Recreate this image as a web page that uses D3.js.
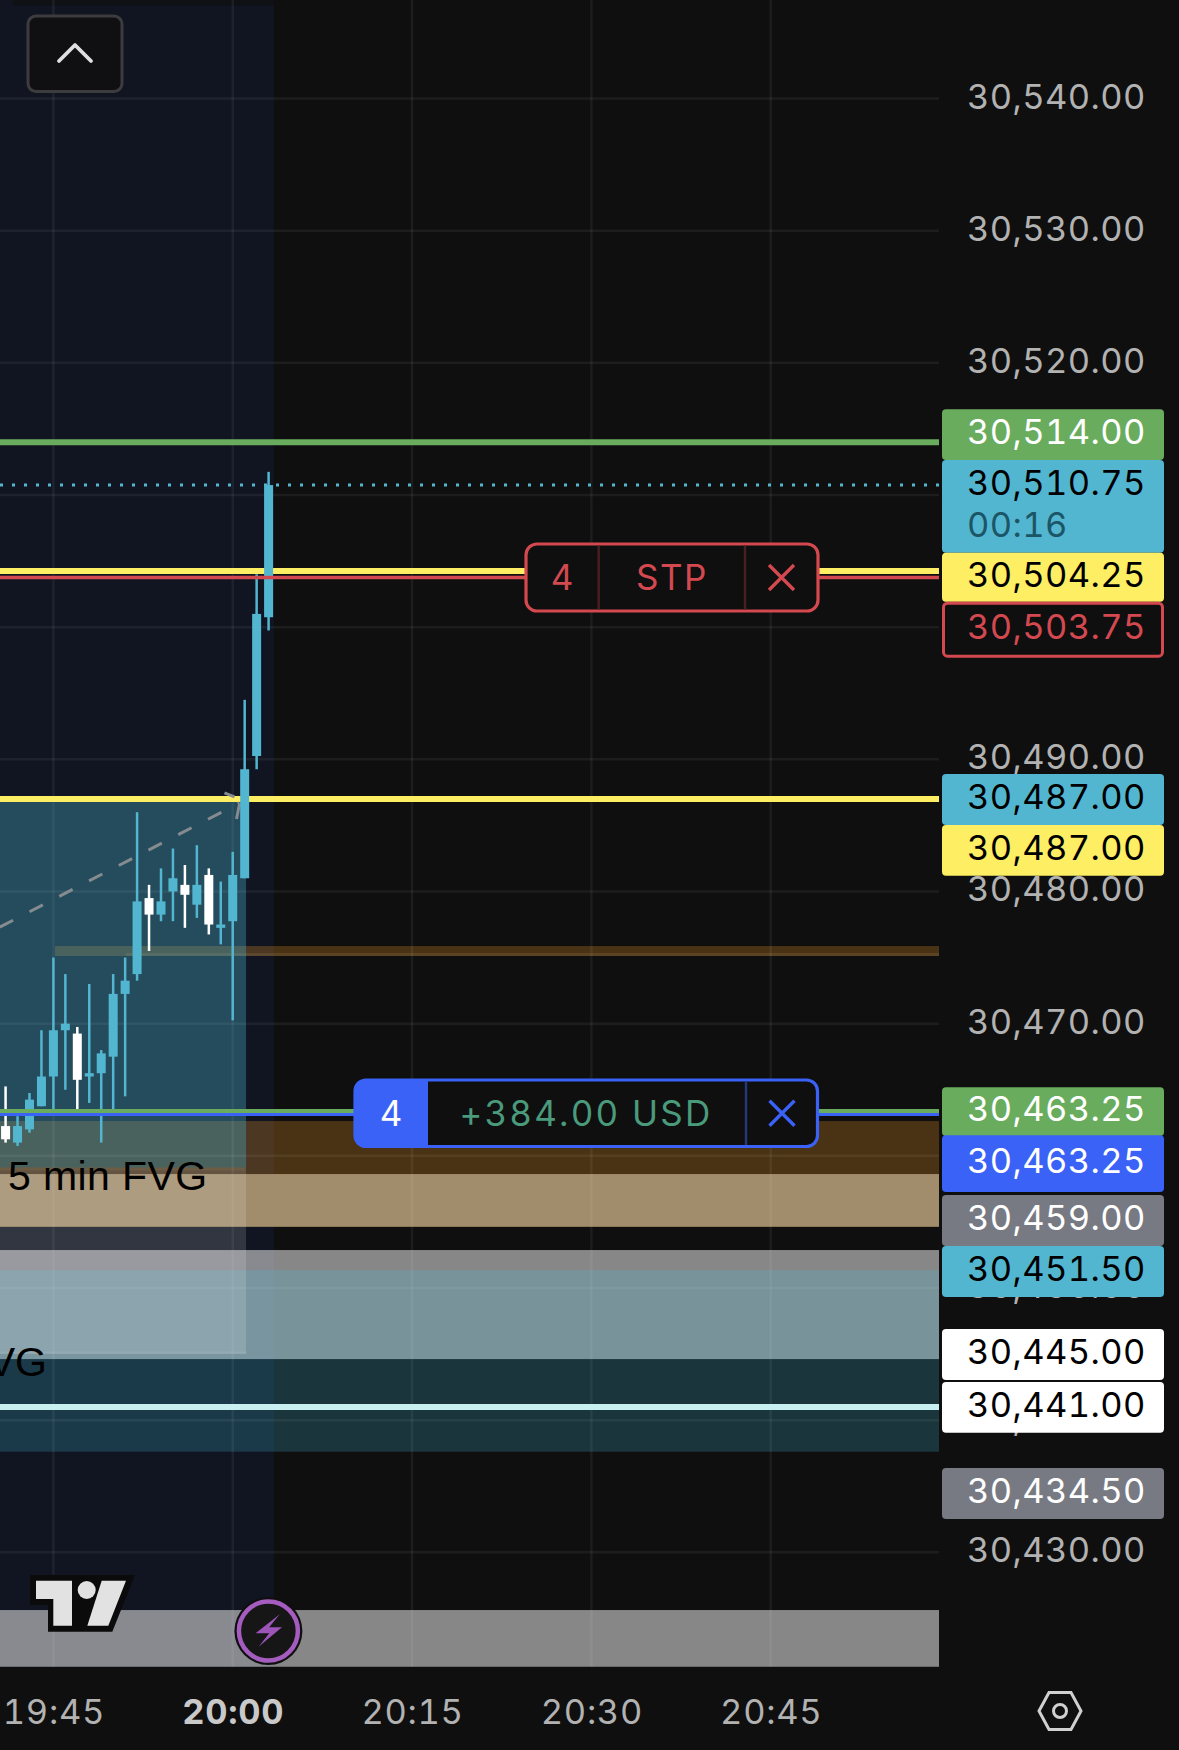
<!DOCTYPE html>
<html>
<head>
<meta charset="utf-8">
<script src="https://cdn.jsdelivr.net/npm/d3@7"></script>
<style>
    html, body { margin: 0; padding: 0; background: #0f0f0f; }
    svg { display: block; }
    text { font-family: Inter, Roboto, sans-serif; font-variant-numeric: tabular-nums; }
</style>
</head>
<body>
<div id="chart"></div>
<script>
// 1 minute bars, first bar is 19:41
const firstBar = new Date(2024, 0, 1, 19, 41);
const opens = [30462.25, 30461, 30462, 30463.75, 30466, 30469.5, 30469.25, 30466, 30466.25, 30467.5, 30472.25, 30473.75, 30479.5, 30478.25, 30480, 30480.5, 30479, 30481.25, 30477.25, 30477.75, 30481, 30490.25, 30500.75];
const highs = [30465.25, 30463, 30464.75, 30469.5, 30475, 30473.75, 30469.75, 30473, 30468, 30473.75, 30475, 30486, 30480.5, 30481.75, 30483.25, 30482, 30483.5, 30481.75, 30480.75, 30483, 30494.5, 30504, 30511.75];
const lows = [30461, 30460.75, 30461.75, 30463.75, 30463.25, 30465, 30463.5, 30464, 30461, 30463.25, 30464.5, 30473.25, 30475.5, 30477.75, 30477.75, 30477.25, 30478, 30476.75, 30476, 30470.25, 30481, 30489.25, 30499.75];
const closes = [30461.25, 30462.25, 30464.25, 30466, 30469.5, 30470, 30465.75, 30466.25, 30467.75, 30472.25, 30473.25, 30479.25, 30478.25, 30479.25, 30481, 30479.75, 30480.5, 30477.5, 30477.5, 30481.25, 30489.25, 30501, 30510.75];

const priceTicks = [30540, 30530, 30520, 30510, 30500, 30490, 30480, 30470, 30460, 30450, 30440, 30430];
const timeTicks = ['19:45', '20:00', '20:15', '20:30', '20:45'];

const labelPrices = [30514, 30510.75, 30504.25, 30503.75, 30487, 30487, 30463.25, 30463.25, 30459, 30451.5, 30445, 30441, 30434.5];
const countdown = '00:16';

const targetPrice = 30487;
const entryPrice = 30459;
const stopPrice = 30445;
const greenLevels = [30514];
const yellowLevels = [30504.25, 30487];
const redLevel = 30503.75;
const lastPrice = 30510.75;
const positionLevel = 30463.25;
const whiteLevel = 30441;

const brownZone = [30462.63, 30454.63];
const tanZone = [30458.62, 30454.63];
const thinZone = [30475.87, 30475.12];
const grayZone = [30452.87, 30444.62];
const tealZone = [30451.35, 30437.61];
const lowGrayZone = [30425.63, 30421.34];
const arrowPrices = [30477.3, 30486.7];
const arrowMinutes = [-4.48, 15.56];

const width = 1179;
const height = 1750;
const plotRight = 939;
const plotBottom = 1667;

const cyan = '#53b6d0';
const yellow = '#fdee63';
const green = '#69ac5e';
const red = '#d4494f';
const blue = '#3b62f6';
const slate = '#787a83';

const parseTime = d3.timeParse('%H:%M');
const tickDates = timeTicks.map(function (t) {
    const d = parseTime(t);
    return new Date(2024, 0, 1, d.getHours(), d.getMinutes());
});
const afterStart = function (minutes) {
    return d3.timeSecond.offset(tickDates[0], Math.round(minutes * 60));
};

const x = d3.scaleTime().domain([tickDates[0], tickDates[4]]).range([53.4, 770.7]);
const y = d3.scaleLinear().domain([30540, 30430]).range([98.5, 1552.3]);

const svg = d3.select('#chart').append('svg').attr('width', width).attr('height', height);
svg.append('defs').append('clipPath').attr('id', 'plot-clip')
    .append('rect').attr('width', plotRight).attr('height', plotBottom);

const plot = svg.append('g').attr('clip-path', 'url(#plot-clip)');

function zone(parent, prices, fill, fromMinutes, toX) {
    const left = fromMinutes === null ? 0 : x(afterStart(fromMinutes));
    parent.append('rect')
        .attr('x', left)
        .attr('y', y(prices[0]))
        .attr('width', (toX === undefined ? plotRight : toX) - left)
        .attr('height', y(prices[1]) - y(prices[0]))
        .attr('fill', fill);
}

function level(parent, price, color, thick, nudge) {
    parent.append('line')
        .attr('x1', 0)
        .attr('x2', plotRight)
        .attr('y1', y(price) + (nudge || 0))
        .attr('y2', y(price) + (nudge || 0))
        .attr('stroke', color)
        .attr('stroke-width', thick);
}

// session background
const sessionRight = x(afterStart(18.45));
const boxRight = x(afterStart(16.11));
plot.append('rect').attr('width', sessionRight).attr('height', plotBottom).attr('fill', 'rgba(41,98,255,0.08)');
plot.append('rect').attr('x', 13).attr('width', sessionRight - 13).attr('height', 5.5).attr('fill', 'rgba(15,15,15,0.7)');

// zones
zone(plot, brownZone, 'rgba(212,135,35,0.3)', null);
plot.append('rect')
    .attr('y', y(tanZone[0])).attr('width', plotRight)
    .attr('height', y(tanZone[1]) - y(tanZone[0]))
    .attr('fill', '#a18c6c');
zone(plot, thinZone, 'rgba(212,135,35,0.3)', 0.13);
zone(plot, [30475.35, thinZone[1]], 'rgba(255,225,170,0.1)', 6.07);
zone(plot, grayZone, 'rgba(255,255,255,0.5)', null);
zone(plot, tealZone, 'rgba(70,190,220,0.22)', null);
zone(plot, lowGrayZone, 'rgba(255,255,255,0.5)', null);

// long position box
zone(plot, [targetPrice, entryPrice], 'rgba(75,180,205,0.35)', null, boxRight);
zone(plot, [entryPrice, stopPrice], 'rgba(255,255,255,0.14)', null, boxRight);
plot.append('line')
    .attr('x1', 0).attr('x2', boxRight - 1)
    .attr('y1', y(entryPrice)).attr('y2', y(entryPrice))
    .attr('stroke', '#6d5c44').attr('stroke-width', 3);
plot.append('line')
    .attr('x1', 0).attr('x2', boxRight)
    .attr('y1', y(stopPrice) - 1.5).attr('y2', y(stopPrice) - 1.5)
    .attr('stroke', 'rgba(255,255,255,0.08)').attr('stroke-width', 2);

// grid
const grid = plot.append('g').attr('stroke', 'rgba(255,255,255,0.06)').attr('stroke-width', 2.5);
grid.selectAll('.h').data(priceTicks).enter().append('line')
    .attr('x1', 0).attr('x2', plotRight)
    .attr('y1', y).attr('y2', y);
grid.selectAll('.v').data(tickDates).enter().append('line')
    .attr('y1', 0).attr('y2', plotBottom)
    .attr('x1', x).attr('x2', x);

// levels under the candles
greenLevels.forEach(function (p) { level(plot, p, green, 6); });
yellowLevels.forEach(function (p) { level(plot, p, yellow, 6); });
plot.append('line')
    .attr('x1', 0).attr('x2', plotRight)
    .attr('y1', y(lastPrice)).attr('y2', y(lastPrice))
    .attr('stroke', cyan).attr('stroke-width', 3).attr('stroke-dasharray', '3 9');

// trade arrow
const arrowStart = [x(afterStart(arrowMinutes[0])), y(arrowPrices[0])];
const arrowTip = [x(afterStart(arrowMinutes[1])), y(arrowPrices[1])];
plot.append('path')
    .attr('d', d3.line()([arrowStart, arrowTip]))
    .attr('stroke', '#868b90').attr('stroke-width', 3).attr('stroke-dasharray', '15 18.5')
    .attr('fill', 'none');
plot.append('path')
    .attr('d', 'M' + (arrowTip[0] - 15) + ',' + (arrowTip[1] - 10) + 'L' + (arrowTip[0] - 5) + ',' + (arrowTip[1] - 6) +
        'M' + arrowTip[0] + ',' + (arrowTip[1] + 1) + 'L' + (arrowTip[0] - 3) + ',' + (arrowTip[1] + 16))
    .attr('stroke', '#868b90').attr('stroke-width', 3).attr('fill', 'none');

// candles
const bars = opens.map(function (o, i) {
    return { t: d3.timeMinute.offset(firstBar, i), o: o, h: highs[i], l: lows[i], c: closes[i] };
});
const candle = plot.selectAll('.candle').data(bars).enter().append('g')
    .attr('fill', function (d) { return d.c >= d.o ? cyan : '#ffffff'; });
candle.append('rect')
    .attr('x', function (d) { return x(d.t) - 1.25; })
    .attr('width', 2.5)
    .attr('y', function (d) { return y(d.h); })
    .attr('height', function (d) { return y(d.l) - y(d.h); });
candle.append('rect')
    .attr('x', function (d) { return x(d.t) - 4.5; })
    .attr('width', 9)
    .attr('y', function (d) { return y(Math.max(d.o, d.c)); })
    .attr('height', function (d) { return Math.max(3, Math.abs(y(d.o) - y(d.c))); });

// levels over the candles
level(plot, redLevel, red, 3.5);
level(plot, positionLevel, green, 4, -1.8);
level(plot, positionLevel, blue, 3, 1.7);
level(plot, whiteLevel, '#c8f0f0', 6);

// zone texts
plot.append('text').attr('x', 8).attr('y', 1190)
    .style('font-family', 'Liberation Sans')
    .attr('font-size', 41).attr('letter-spacing', 0.4).attr('fill', '#000').text('5 min FVG');
plot.append('text').attr('x', 47).attr('y', 1376).attr('text-anchor', 'end')
    .style('font-family', 'Liberation Sans')
    .attr('font-size', 41).attr('fill', '#000').text('FVG');

// price axis
const priceAxis = svg.append('g')
    .attr('transform', 'translate(967,0)')
    .call(d3.axisRight(y).tickValues(priceTicks).tickSize(0).tickPadding(0).tickFormat(d3.format(',.2f')));
priceAxis.select('.domain').remove();
priceAxis.selectAll('text')
    .attr('dy', null)
    .attr('y', 9.5)
    .attr('fill', '#b2b2b2')
    .attr('font-size', 34.5)
    .attr('letter-spacing', 0.4)
    .style('font-family', 'Inter');

// time axis
const timeAxis = svg.append('g')
    .attr('transform', 'translate(0,1724)')
    .call(d3.axisBottom(x).tickValues(tickDates).tickSize(0).tickPadding(0).tickFormat(d3.timeFormat('%H:%M')));
timeAxis.select('.domain').remove();
timeAxis.selectAll('text')
    .attr('dy', null)
    .attr('y', 0)
    .attr('fill', '#b2b2b2')
    .attr('font-size', 34.5)
    .attr('letter-spacing', 0.7)
    .style('font-family', 'Inter');
timeAxis.selectAll('text').filter(function (d) { return d3.timeFormat('%H:%M')(d) === '20:00'; })
    .attr('font-weight', 700)
    .attr('fill', '#c9c9c9');

// price labels on the axis, stacked so they do not overlap
const labelTops = [409.3, 460, 552.7, 601.7, 774, 825, 1087.3, 1135.3, 1195, 1246, 1329, 1382, 1468];
const labelBottoms = [460, 552.7, 601.7, 657.7, 825, 875.7, 1136, 1192, 1246, 1297, 1380, 1432.7, 1519];
const labelFills = [green, cyan, yellow, '#0f0f0f', cyan, yellow, green, blue, slate, cyan, '#ffffff', '#ffffff', slate];
const labelInks = ['#ffffff', '#000000', '#000000', red, '#000000', '#000000', '#ffffff', '#ffffff', '#ffffff', '#000000', '#000000', '#000000', '#ffffff'];
const priceFormat = d3.format(',.2f');

const labels = svg.selectAll('.price-label').data(labelPrices).enter().append('g');
labels.append('rect')
    .attr('x', function (d, i) { return i === 3 ? 943.5 : 942; })
    .attr('width', function (d, i) { return i === 3 ? 219 : 222; })
    .attr('y', function (d, i) { return labelTops[i] + (i === 3 ? 1.5 : 0); })
    .attr('height', function (d, i) { return labelBottoms[i] - labelTops[i] - (i === 3 ? 3 : 0); })
    .attr('rx', 4)
    .attr('fill', function (d, i) { return labelFills[i]; })
    .attr('stroke', function (d, i) { return i === 3 ? red : 'none'; })
    .attr('stroke-width', 3);
labels.append('text')
    .attr('x', 967)
    .attr('y', function (d, i) {
        if (i === 1) return y(d) + 9.5;
        return (labelTops[i] + labelBottoms[i]) / 2 + 9.5;
    })
    .attr('font-size', 34.5)
    .attr('letter-spacing', 0.4)
    .attr('fill', function (d, i) { return labelInks[i]; })
    .text(function (d) { return priceFormat(d); });
svg.append('text').attr('x', 967).attr('y', 537).attr('font-size', 34.5).attr('letter-spacing', 0.4)
    .attr('fill', '#1c5566').text(countdown);

// order tickets
function ticket(cfg) {
    const g = svg.append('g');
    g.append('rect')
        .attr('x', cfg.left).attr('y', cfg.top)
        .attr('width', cfg.right - cfg.left).attr('height', cfg.bottom - cfg.top)
        .attr('rx', 11).attr('fill', '#0f0f0f')
        .attr('stroke', cfg.color).attr('stroke-width', 3.2);
    if (cfg.filled) {
        g.append('path')
            .attr('d', 'M' + cfg.div1 + ',' + cfg.top + 'H' + (cfg.left + 11) + 'a11,11 0 0 0 -11,11V' + (cfg.bottom - 11) +
                'a11,11 0 0 0 11,11H' + cfg.div1 + 'Z')
            .attr('fill', cfg.color);
    } else {
        g.append('line').attr('x1', cfg.div1).attr('x2', cfg.div1)
            .attr('y1', cfg.top + 1.6).attr('y2', cfg.bottom - 1.6)
            .attr('stroke', cfg.divider).attr('stroke-width', 2.4);
    }
    g.append('line').attr('x1', cfg.div2).attr('x2', cfg.div2)
        .attr('y1', cfg.top + 1.6).attr('y2', cfg.bottom - 1.6)
        .attr('stroke', cfg.divider).attr('stroke-width', 2.4);
    const mid = (cfg.top + cfg.bottom) / 2;
    g.append('text').attr('x', cfg.qtyX).attr('y', mid + 12.5).attr('text-anchor', 'middle')
        .attr('font-size', 35).attr('fill', cfg.qtyInk).text(cfg.qty);
    g.append('text').attr('x', cfg.textX).attr('y', mid + 12.5).attr('text-anchor', 'middle')
        .attr('font-size', 35).attr('letter-spacing', cfg.spacing).attr('fill', cfg.textInk).text(cfg.text);
    g.append('path')
        .attr('d', 'M' + (cfg.closeX - 12.5) + ',' + (mid - 12.5) + 'L' + (cfg.closeX + 12.5) + ',' + (mid + 12.5) +
            'M' + (cfg.closeX + 12.5) + ',' + (mid - 12.5) + 'L' + (cfg.closeX - 12.5) + ',' + (mid + 12.5))
        .attr('stroke', cfg.color).attr('stroke-width', 3.4).attr('fill', 'none');
}

ticket({
    left: 526, right: 818, top: 544, bottom: 611, div1: 598.7, div2: 745,
    color: red, divider: '#4a1f22', qty: '4', qtyX: 562, qtyInk: red,
    text: 'STP', textX: 672, textInk: red, closeX: 781.5, spacing: 1.5
});
ticket({
    left: 355, right: 817.5, top: 1080, bottom: 1146.5, div1: 428, div2: 746, filled: true,
    color: blue, divider: '#223a7a', qty: '4', qtyX: 391, qtyInk: '#ffffff',
    text: '+384.00 USD', textX: 586, textInk: '#4a9a7c', closeX: 782, spacing: 2.2
});

// collapse button
svg.append('rect').attr('x', 28).attr('y', 16).attr('width', 94).attr('height', 75.5).attr('rx', 8)
    .attr('fill', '#101012').attr('stroke', '#3c3c3e').attr('stroke-width', 3);
svg.append('path').attr('d', 'M59,61L75,45L91,61')
    .attr('fill', 'none').attr('stroke', '#e0e0e0').attr('stroke-width', 3.8)
    .attr('stroke-linecap', 'round').attr('stroke-linejoin', 'round');

// logo
const logo = svg.append('g').attr('fill', '#e2e2e2');
logo.append('path').attr('d', 'M30,1575H135L112.3,1631.7H48V1605H30Z').attr('fill', '#0b0b0b');
logo.append('path').attr('d', 'M36,1580.7H72V1625.7H53.3V1599H36Z');
logo.append('circle').attr('cx', 86.7).attr('cy', 1590).attr('r', 9);
logo.append('path').attr('d', 'M101.7,1580.7H126L108.3,1625.7H87.3Z');

// bolt badge
const badge = svg.append('g');
badge.append('circle').attr('cx', 268.4).attr('cy', 1631).attr('r', 34).attr('fill', '#0f0f0f');
badge.append('circle').attr('cx', 268.4).attr('cy', 1631).attr('r', 29.5)
    .attr('fill', '#161616').attr('stroke', '#a45cbe').attr('stroke-width', 4.5);
badge.append('path')
    .attr('d', 'M279.7,1614.3L255.6,1633.3H269.2L258.6,1646.7L282,1627.3H269.2Z')
    .attr('fill', '#9c54b8');

// settings hexagon
const hexagon = svg.append('g').attr('transform', 'translate(1060,1711)')
    .attr('fill', 'none').attr('stroke', '#d0d0d0').attr('stroke-width', 3);
hexagon.append('path').attr('d', 'M-21,0L-11,-18.5H11L21,0L11,18.5H-11Z');
hexagon.append('circle').attr('r', 6.5);
</script>
</body>
</html>
